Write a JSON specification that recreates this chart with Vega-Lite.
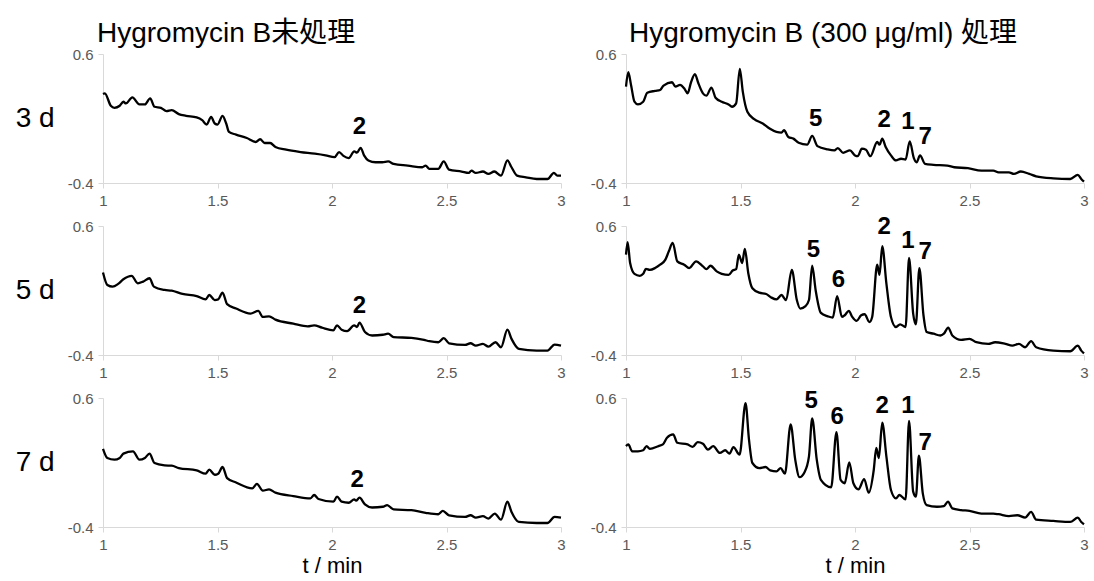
{
  "$schema": "https://vega.github.io/schema/vega-lite/v6.json",
  "background": "white",
  "padding": {"left": 15, "top": 20, "right": 5, "bottom": 5},
  "config": {
    "font": "Liberation Sans",
    "view": {"stroke": null},
    "axis": {
      "grid": false,
      "domainColor": "#d9d9d9",
      "tickColor": "#d9d9d9",
      "labelColor": "#595959",
      "labelFont": "Liberation Sans",
      "labelFontSize": 15,
      "tickSize": 5,
      "labelPadding": 5,
      "titleFont": "Liberation Sans",
      "titleFontWeight": "normal",
      "titleColor": "#000000"
    },
    "title": {"font": "Liberation Sans, Noto Sans CJK JP", "fontWeight": "normal", "color": "#000000", "fontSize": 28, "anchor": "start", "frame": "group"},
    "line": {"interpolate": "monotone", "color": "#000000", "strokeWidth": 2.3},
    "locale": {"number": {"decimal": ".", "thousands": ",", "grouping": [3], "currency": ["", ""], "minus": "-"}}
  },
  "datasets": {
    "traces": [
      {"panel":"u3","t":1,"signal":0.29},{"panel":"u3","t":1.008,"signal":0.295},{"panel":"u3","t":1.034,"signal":0.199},{"panel":"u3","t":1.05,"signal":0.183},{"panel":"u3","t":1.073,"signal":0.199},{"panel":"u3","t":1.089,"signal":0.23},{"panel":"u3","t":1.1,"signal":0.217},{"panel":"u3","t":1.128,"signal":0.264},{"panel":"u3","t":1.159,"signal":0.209},{"panel":"u3","t":1.183,"signal":0.209},{"panel":"u3","t":1.206,"signal":0.256},{"panel":"u3","t":1.225,"signal":0.191},{"panel":"u3","t":1.253,"signal":0.183},{"panel":"u3","t":1.277,"signal":0.157},{"panel":"u3","t":1.3,"signal":0.165},{"panel":"u3","t":1.331,"signal":0.134},{"panel":"u3","t":1.363,"signal":0.121},{"panel":"u3","t":1.409,"signal":0.108},{"panel":"u3","t":1.433,"signal":0.087},{"panel":"u3","t":1.453,"signal":0.053},{"panel":"u3","t":1.472,"signal":0.113},{"panel":"u3","t":1.488,"signal":0.061},{"panel":"u3","t":1.5,"signal":0.053},{"panel":"u3","t":1.522,"signal":0.121},{"panel":"u3","t":1.538,"signal":0.061},{"panel":"u3","t":1.55,"signal":-0.004},{"panel":"u3","t":1.581,"signal":-0.025},{"panel":"u3","t":1.628,"signal":-0.051},{"panel":"u3","t":1.667,"signal":-0.082},{"panel":"u3","t":1.686,"signal":-0.061},{"panel":"u3","t":1.706,"signal":-0.09},{"panel":"u3","t":1.73,"signal":-0.09},{"panel":"u3","t":1.753,"signal":-0.121},{"panel":"u3","t":1.8,"signal":-0.142},{"panel":"u3","t":1.863,"signal":-0.16},{"panel":"u3","t":1.925,"signal":-0.173},{"panel":"u3","t":1.972,"signal":-0.186},{"panel":"u3","t":2.011,"signal":-0.2},{"panel":"u3","t":2.031,"signal":-0.16},{"panel":"u3","t":2.05,"signal":-0.19},{"panel":"u3","t":2.073,"signal":-0.207},{"panel":"u3","t":2.097,"signal":-0.155},{"panel":"u3","t":2.109,"signal":-0.165},{"panel":"u3","t":2.125,"signal":-0.127},{"panel":"u3","t":2.14,"signal":-0.186},{"panel":"u3","t":2.159,"signal":-0.225},{"panel":"u3","t":2.19,"signal":-0.239},{"panel":"u3","t":2.22,"signal":-0.239},{"panel":"u3","t":2.245,"signal":-0.233},{"panel":"u3","t":2.269,"signal":-0.252},{"panel":"u3","t":2.331,"signal":-0.265},{"panel":"u3","t":2.394,"signal":-0.278},{"panel":"u3","t":2.409,"signal":-0.265},{"panel":"u3","t":2.425,"signal":-0.29},{"panel":"u3","t":2.464,"signal":-0.29},{"panel":"u3","t":2.488,"signal":-0.233},{"panel":"u3","t":2.511,"signal":-0.296},{"panel":"u3","t":2.566,"signal":-0.311},{"panel":"u3","t":2.597,"signal":-0.322},{"panel":"u3","t":2.609,"signal":-0.304},{"panel":"u3","t":2.628,"signal":-0.322},{"panel":"u3","t":2.659,"signal":-0.311},{"panel":"u3","t":2.683,"signal":-0.33},{"panel":"u3","t":2.709,"signal":-0.311},{"panel":"u3","t":2.738,"signal":-0.343},{"panel":"u3","t":2.766,"signal":-0.225},{"panel":"u3","t":2.784,"signal":-0.278},{"panel":"u3","t":2.808,"signal":-0.343},{"panel":"u3","t":2.847,"signal":-0.356},{"panel":"u3","t":2.894,"signal":-0.369},{"panel":"u3","t":2.941,"signal":-0.369},{"panel":"u3","t":2.969,"signal":-0.322},{"panel":"u3","t":2.984,"signal":-0.343},{"panel":"u3","t":3,"signal":-0.343},

      {"panel":"u5","t":1,"signal":0.24},{"panel":"u5","t":1.019,"signal":0.143},{"panel":"u5","t":1.042,"signal":0.13},{"panel":"u5","t":1.066,"signal":0.151},{"panel":"u5","t":1.089,"signal":0.187},{"panel":"u5","t":1.125,"signal":0.214},{"panel":"u5","t":1.152,"signal":0.156},{"panel":"u5","t":1.175,"signal":0.169},{"panel":"u5","t":1.203,"signal":0.195},{"panel":"u5","t":1.222,"signal":0.13},{"panel":"u5","t":1.269,"signal":0.104},{"panel":"u5","t":1.3,"signal":0.099},{"panel":"u5","t":1.347,"signal":0.073},{"panel":"u5","t":1.409,"signal":0.057},{"panel":"u5","t":1.448,"signal":0.031},{"panel":"u5","t":1.464,"signal":0.065},{"panel":"u5","t":1.488,"signal":0.026},{"panel":"u5","t":1.503,"signal":0.031},{"panel":"u5","t":1.522,"signal":0.083},{"panel":"u5","t":1.542,"signal":-0.006},{"panel":"u5","t":1.581,"signal":-0.04},{"panel":"u5","t":1.644,"signal":-0.079},{"panel":"u5","t":1.678,"signal":-0.058},{"panel":"u5","t":1.698,"signal":-0.105},{"panel":"u5","t":1.725,"signal":-0.1},{"panel":"u5","t":1.753,"signal":-0.126},{"panel":"u5","t":1.831,"signal":-0.157},{"panel":"u5","t":1.894,"signal":-0.178},{"panel":"u5","t":1.922,"signal":-0.17},{"panel":"u5","t":1.956,"signal":-0.188},{"panel":"u5","t":2.006,"signal":-0.209},{"panel":"u5","t":2.022,"signal":-0.17},{"panel":"u5","t":2.042,"signal":-0.204},{"panel":"u5","t":2.066,"signal":-0.215},{"panel":"u5","t":2.097,"signal":-0.17},{"panel":"u5","t":2.109,"signal":-0.183},{"panel":"u5","t":2.12,"signal":-0.149},{"panel":"u5","t":2.144,"signal":-0.222},{"panel":"u5","t":2.175,"signal":-0.249},{"panel":"u5","t":2.222,"signal":-0.243},{"panel":"u5","t":2.245,"signal":-0.235},{"panel":"u5","t":2.269,"signal":-0.262},{"panel":"u5","t":2.347,"signal":-0.267},{"panel":"u5","t":2.402,"signal":-0.283},{"panel":"u5","t":2.425,"signal":-0.293},{"panel":"u5","t":2.464,"signal":-0.301},{"panel":"u5","t":2.488,"signal":-0.269},{"panel":"u5","t":2.511,"signal":-0.309},{"panel":"u5","t":2.581,"signal":-0.322},{"panel":"u5","t":2.605,"signal":-0.309},{"panel":"u5","t":2.628,"signal":-0.327},{"panel":"u5","t":2.659,"signal":-0.314},{"panel":"u5","t":2.683,"signal":-0.335},{"panel":"u5","t":2.714,"signal":-0.301},{"panel":"u5","t":2.738,"signal":-0.34},{"panel":"u5","t":2.766,"signal":-0.204},{"panel":"u5","t":2.784,"signal":-0.275},{"panel":"u5","t":2.816,"signal":-0.353},{"panel":"u5","t":2.894,"signal":-0.366},{"panel":"u5","t":2.941,"signal":-0.366},{"panel":"u5","t":2.972,"signal":-0.319},{"panel":"u5","t":3,"signal":-0.327},

      {"panel":"u7","t":1,"signal":0.206},{"panel":"u7","t":1.019,"signal":0.135},{"panel":"u7","t":1.05,"signal":0.122},{"panel":"u7","t":1.073,"signal":0.135},{"panel":"u7","t":1.089,"signal":0.169},{"panel":"u7","t":1.131,"signal":0.187},{"panel":"u7","t":1.159,"signal":0.122},{"panel":"u7","t":1.183,"signal":0.135},{"panel":"u7","t":1.203,"signal":0.169},{"panel":"u7","t":1.225,"signal":0.096},{"panel":"u7","t":1.269,"signal":0.078},{"panel":"u7","t":1.3,"signal":0.075},{"panel":"u7","t":1.331,"signal":0.057},{"panel":"u7","t":1.409,"signal":0.039},{"panel":"u7","t":1.448,"signal":0.013},{"panel":"u7","t":1.464,"signal":0.044},{"panel":"u7","t":1.488,"signal":0.005},{"panel":"u7","t":1.503,"signal":0.013},{"panel":"u7","t":1.522,"signal":0.065},{"panel":"u7","t":1.542,"signal":-0.021},{"panel":"u7","t":1.581,"signal":-0.055},{"panel":"u7","t":1.652,"signal":-0.1},{"panel":"u7","t":1.672,"signal":-0.066},{"panel":"u7","t":1.698,"signal":-0.118},{"panel":"u7","t":1.725,"signal":-0.108},{"panel":"u7","t":1.753,"signal":-0.134},{"panel":"u7","t":1.831,"signal":-0.16},{"panel":"u7","t":1.906,"signal":-0.178},{"panel":"u7","t":1.922,"signal":-0.152},{"panel":"u7","t":1.941,"signal":-0.183},{"panel":"u7","t":2.006,"signal":-0.204},{"panel":"u7","t":2.022,"signal":-0.165},{"panel":"u7","t":2.042,"signal":-0.204},{"panel":"u7","t":2.073,"signal":-0.212},{"panel":"u7","t":2.097,"signal":-0.186},{"panel":"u7","t":2.105,"signal":-0.196},{"panel":"u7","t":2.12,"signal":-0.173},{"panel":"u7","t":2.144,"signal":-0.225},{"panel":"u7","t":2.175,"signal":-0.249},{"panel":"u7","t":2.222,"signal":-0.243},{"panel":"u7","t":2.241,"signal":-0.23},{"panel":"u7","t":2.269,"signal":-0.264},{"panel":"u7","t":2.347,"signal":-0.269},{"panel":"u7","t":2.409,"signal":-0.29},{"panel":"u7","t":2.464,"signal":-0.301},{"panel":"u7","t":2.484,"signal":-0.275},{"panel":"u7","t":2.511,"signal":-0.309},{"panel":"u7","t":2.581,"signal":-0.322},{"panel":"u7","t":2.605,"signal":-0.309},{"panel":"u7","t":2.628,"signal":-0.327},{"panel":"u7","t":2.659,"signal":-0.316},{"panel":"u7","t":2.683,"signal":-0.335},{"panel":"u7","t":2.711,"signal":-0.296},{"panel":"u7","t":2.738,"signal":-0.343},{"panel":"u7","t":2.766,"signal":-0.204},{"panel":"u7","t":2.784,"signal":-0.283},{"panel":"u7","t":2.816,"signal":-0.361},{"panel":"u7","t":2.894,"signal":-0.369},{"panel":"u7","t":2.941,"signal":-0.369},{"panel":"u7","t":2.972,"signal":-0.322},{"panel":"u7","t":3,"signal":-0.327},

      {"panel":"h3","t":1,"signal":0.347},{"panel":"h3","t":1.01,"signal":0.459},{"panel":"h3","t":1.022,"signal":0.36},{"panel":"h3","t":1.037,"signal":0.23},{"panel":"h3","t":1.052,"signal":0.209},{"panel":"h3","t":1.075,"signal":0.23},{"panel":"h3","t":1.093,"signal":0.3},{"panel":"h3","t":1.127,"signal":0.314},{"panel":"h3","t":1.149,"signal":0.321},{"panel":"h3","t":1.164,"signal":0.355},{"panel":"h3","t":1.201,"signal":0.381},{"panel":"h3","t":1.216,"signal":0.347},{"panel":"h3","t":1.236,"signal":0.36},{"panel":"h3","t":1.254,"signal":0.334},{"panel":"h3","t":1.269,"signal":0.295},{"panel":"h3","t":1.284,"signal":0.381},{"panel":"h3","t":1.301,"signal":0.444},{"panel":"h3","t":1.316,"signal":0.373},{"panel":"h3","t":1.336,"signal":0.295},{"panel":"h3","t":1.351,"signal":0.277},{"panel":"h3","t":1.373,"signal":0.34},{"panel":"h3","t":1.391,"signal":0.261},{"panel":"h3","t":1.418,"signal":0.23},{"panel":"h3","t":1.448,"signal":0.209},{"panel":"h3","t":1.463,"signal":0.191},{"panel":"h3","t":1.481,"signal":0.217},{"panel":"h3","t":1.497,"signal":0.485},{"panel":"h3","t":1.51,"signal":0.308},{"panel":"h3","t":1.53,"signal":0.152},{"panel":"h3","t":1.56,"signal":0.095},{"panel":"h3","t":1.597,"signal":0.061},{"panel":"h3","t":1.627,"signal":0.022},{"panel":"h3","t":1.657,"signal":-0.004},{"panel":"h3","t":1.679,"signal":-0.009},{"panel":"h3","t":1.69,"signal":0.009},{"panel":"h3","t":1.709,"signal":-0.043},{"panel":"h3","t":1.731,"signal":-0.056},{"panel":"h3","t":1.754,"signal":-0.088},{"panel":"h3","t":1.791,"signal":-0.103},{"panel":"h3","t":1.813,"signal":-0.035},{"panel":"h3","t":1.836,"signal":-0.114},{"panel":"h3","t":1.881,"signal":-0.14},{"panel":"h3","t":1.91,"signal":-0.147},{"panel":"h3","t":1.925,"signal":-0.129},{"panel":"h3","t":1.948,"signal":-0.166},{"panel":"h3","t":1.978,"signal":-0.147},{"panel":"h3","t":2,"signal":-0.186},{"panel":"h3","t":2.012,"signal":-0.192},{"panel":"h3","t":2.03,"signal":-0.134},{"panel":"h3","t":2.048,"signal":-0.142},{"panel":"h3","t":2.067,"signal":-0.192},{"panel":"h3","t":2.097,"signal":-0.082},{"panel":"h3","t":2.107,"signal":-0.103},{"panel":"h3","t":2.119,"signal":-0.056},{"panel":"h3","t":2.134,"signal":-0.121},{"panel":"h3","t":2.157,"signal":-0.186},{"panel":"h3","t":2.179,"signal":-0.225},{"panel":"h3","t":2.201,"signal":-0.212},{"panel":"h3","t":2.221,"signal":-0.218},{"panel":"h3","t":2.239,"signal":-0.077},{"panel":"h3","t":2.257,"signal":-0.207},{"panel":"h3","t":2.269,"signal":-0.239},{"panel":"h3","t":2.284,"signal":-0.186},{"panel":"h3","t":2.306,"signal":-0.252},{"panel":"h3","t":2.343,"signal":-0.259},{"panel":"h3","t":2.403,"signal":-0.265},{"panel":"h3","t":2.433,"signal":-0.278},{"panel":"h3","t":2.493,"signal":-0.285},{"panel":"h3","t":2.552,"signal":-0.304},{"panel":"h3","t":2.604,"signal":-0.304},{"panel":"h3","t":2.627,"signal":-0.317},{"panel":"h3","t":2.672,"signal":-0.317},{"panel":"h3","t":2.694,"signal":-0.33},{"panel":"h3","t":2.724,"signal":-0.311},{"panel":"h3","t":2.761,"signal":-0.33},{"panel":"h3","t":2.791,"signal":-0.348},{"panel":"h3","t":2.866,"signal":-0.364},{"panel":"h3","t":2.94,"signal":-0.369},{"panel":"h3","t":2.973,"signal":-0.337},{"panel":"h3","t":2.988,"signal":-0.369},{"panel":"h3","t":3,"signal":-0.39},

      {"panel":"h5","t":1,"signal":0.378},{"panel":"h5","t":1.007,"signal":0.475},{"panel":"h5","t":1.018,"signal":0.313},{"panel":"h5","t":1.037,"signal":0.229},{"panel":"h5","t":1.06,"signal":0.214},{"panel":"h5","t":1.075,"signal":0.229},{"panel":"h5","t":1.087,"signal":0.268},{"panel":"h5","t":1.104,"signal":0.26},{"panel":"h5","t":1.127,"signal":0.274},{"panel":"h5","t":1.149,"signal":0.3},{"panel":"h5","t":1.172,"signal":0.339},{"panel":"h5","t":1.187,"signal":0.404},{"panel":"h5","t":1.204,"signal":0.469},{"panel":"h5","t":1.224,"signal":0.326},{"panel":"h5","t":1.254,"signal":0.3},{"panel":"h5","t":1.276,"signal":0.274},{"panel":"h5","t":1.306,"signal":0.326},{"panel":"h5","t":1.336,"signal":0.287},{"panel":"h5","t":1.351,"signal":0.266},{"panel":"h5","t":1.369,"signal":0.292},{"panel":"h5","t":1.396,"signal":0.248},{"panel":"h5","t":1.418,"signal":0.229},{"panel":"h5","t":1.448,"signal":0.221},{"panel":"h5","t":1.466,"signal":0.255},{"panel":"h5","t":1.481,"signal":0.266},{"panel":"h5","t":1.493,"signal":0.378},{"panel":"h5","t":1.507,"signal":0.313},{"panel":"h5","t":1.519,"signal":0.422},{"panel":"h5","t":1.534,"signal":0.234},{"panel":"h5","t":1.552,"signal":0.117},{"panel":"h5","t":1.582,"signal":0.083},{"panel":"h5","t":1.612,"signal":0.073},{"panel":"h5","t":1.634,"signal":0.046},{"panel":"h5","t":1.657,"signal":0.031},{"panel":"h5","t":1.679,"signal":0.065},{"panel":"h5","t":1.699,"signal":0.026},{"panel":"h5","t":1.724,"signal":0.26},{"panel":"h5","t":1.746,"signal":0.026},{"panel":"h5","t":1.761,"signal":-0.04},{"panel":"h5","t":1.784,"signal":-0.021},{"panel":"h5","t":1.799,"signal":0.026},{"panel":"h5","t":1.813,"signal":0.292},{"panel":"h5","t":1.828,"signal":0.104},{"panel":"h5","t":1.851,"signal":-0.074},{"panel":"h5","t":1.881,"signal":-0.1},{"panel":"h5","t":1.903,"signal":-0.11},{"panel":"h5","t":1.922,"signal":0.057},{"panel":"h5","t":1.943,"signal":-0.105},{"panel":"h5","t":1.955,"signal":-0.092},{"panel":"h5","t":1.973,"signal":-0.058},{"panel":"h5","t":1.988,"signal":-0.105},{"panel":"h5","t":2.007,"signal":-0.136},{"panel":"h5","t":2.027,"signal":-0.092},{"panel":"h5","t":2.042,"signal":-0.084},{"panel":"h5","t":2.063,"signal":-0.144},{"panel":"h5","t":2.075,"signal":-0.105},{"panel":"h5","t":2.097,"signal":0.3},{"panel":"h5","t":2.107,"signal":0.221},{"panel":"h5","t":2.119,"signal":0.443},{"panel":"h5","t":2.137,"signal":0.156},{"panel":"h5","t":2.157,"signal":-0.105},{"panel":"h5","t":2.179,"signal":-0.183},{"panel":"h5","t":2.197,"signal":-0.162},{"panel":"h5","t":2.221,"signal":-0.183},{"panel":"h5","t":2.236,"signal":0.352},{"panel":"h5","t":2.254,"signal":-0.079},{"panel":"h5","t":2.266,"signal":-0.162},{"panel":"h5","t":2.281,"signal":0.274},{"panel":"h5","t":2.299,"signal":-0.092},{"panel":"h5","t":2.313,"signal":-0.222},{"panel":"h5","t":2.343,"signal":-0.235},{"panel":"h5","t":2.373,"signal":-0.249},{"panel":"h5","t":2.388,"signal":-0.235},{"panel":"h5","t":2.407,"signal":-0.188},{"panel":"h5","t":2.425,"signal":-0.249},{"panel":"h5","t":2.463,"signal":-0.283},{"panel":"h5","t":2.5,"signal":-0.275},{"panel":"h5","t":2.53,"signal":-0.301},{"panel":"h5","t":2.582,"signal":-0.314},{"panel":"h5","t":2.612,"signal":-0.301},{"panel":"h5","t":2.657,"signal":-0.314},{"panel":"h5","t":2.687,"signal":-0.327},{"panel":"h5","t":2.716,"signal":-0.314},{"panel":"h5","t":2.743,"signal":-0.34},{"panel":"h5","t":2.769,"signal":-0.293},{"panel":"h5","t":2.791,"signal":-0.34},{"panel":"h5","t":2.866,"signal":-0.366},{"panel":"h5","t":2.94,"signal":-0.371},{"panel":"h5","t":2.973,"signal":-0.327},{"panel":"h5","t":2.988,"signal":-0.366},{"panel":"h5","t":3,"signal":-0.387},

      {"panel":"h7","t":1,"signal":0.227},{"panel":"h7","t":1.01,"signal":0.24},{"panel":"h7","t":1.027,"signal":0.187},{"panel":"h7","t":1.052,"signal":0.187},{"panel":"h7","t":1.075,"signal":0.195},{"panel":"h7","t":1.09,"signal":0.227},{"panel":"h7","t":1.104,"signal":0.206},{"panel":"h7","t":1.142,"signal":0.227},{"panel":"h7","t":1.161,"signal":0.24},{"panel":"h7","t":1.179,"signal":0.292},{"panel":"h7","t":1.206,"signal":0.318},{"panel":"h7","t":1.224,"signal":0.253},{"panel":"h7","t":1.269,"signal":0.24},{"panel":"h7","t":1.291,"signal":0.221},{"panel":"h7","t":1.313,"signal":0.258},{"panel":"h7","t":1.336,"signal":0.245},{"panel":"h7","t":1.358,"signal":0.2},{"panel":"h7","t":1.381,"signal":0.227},{"panel":"h7","t":1.41,"signal":0.174},{"panel":"h7","t":1.433,"signal":0.195},{"panel":"h7","t":1.452,"signal":0.169},{"panel":"h7","t":1.469,"signal":0.219},{"panel":"h7","t":1.496,"signal":0.161},{"panel":"h7","t":1.522,"signal":0.561},{"panel":"h7","t":1.537,"signal":0.279},{"panel":"h7","t":1.552,"signal":0.096},{"panel":"h7","t":1.582,"signal":0.057},{"panel":"h7","t":1.609,"signal":0.065},{"panel":"h7","t":1.63,"signal":0.039},{"panel":"h7","t":1.657,"signal":0.031},{"panel":"h7","t":1.675,"signal":0.057},{"panel":"h7","t":1.694,"signal":0.013},{"panel":"h7","t":1.719,"signal":0.396},{"panel":"h7","t":1.739,"signal":0.122},{"panel":"h7","t":1.758,"signal":-0.014},{"panel":"h7","t":1.779,"signal":0.023},{"panel":"h7","t":1.799,"signal":0.148},{"panel":"h7","t":1.813,"signal":0.441},{"panel":"h7","t":1.833,"signal":0.122},{"panel":"h7","t":1.851,"signal":-0.034},{"panel":"h7","t":1.896,"signal":-0.092},{"panel":"h7","t":1.919,"signal":0.336},{"panel":"h7","t":1.937,"signal":-0.034},{"panel":"h7","t":1.955,"signal":-0.061},{"panel":"h7","t":1.975,"signal":0.101},{"panel":"h7","t":1.993,"signal":-0.061},{"panel":"h7","t":2.015,"signal":-0.108},{"panel":"h7","t":2.04,"signal":-0.029},{"panel":"h7","t":2.06,"signal":-0.134},{"panel":"h7","t":2.082,"signal":0.044},{"panel":"h7","t":2.093,"signal":0.214},{"panel":"h7","t":2.104,"signal":0.135},{"panel":"h7","t":2.119,"signal":0.409},{"panel":"h7","t":2.137,"signal":0.148},{"panel":"h7","t":2.157,"signal":-0.113},{"panel":"h7","t":2.179,"signal":-0.178},{"panel":"h7","t":2.194,"signal":-0.152},{"panel":"h7","t":2.221,"signal":-0.186},{"panel":"h7","t":2.236,"signal":0.422},{"panel":"h7","t":2.254,"signal":-0.126},{"panel":"h7","t":2.266,"signal":-0.165},{"panel":"h7","t":2.279,"signal":0.153},{"panel":"h7","t":2.296,"signal":-0.139},{"panel":"h7","t":2.313,"signal":-0.23},{"panel":"h7","t":2.358,"signal":-0.243},{"panel":"h7","t":2.388,"signal":-0.238},{"panel":"h7","t":2.406,"signal":-0.204},{"panel":"h7","t":2.425,"signal":-0.256},{"panel":"h7","t":2.463,"signal":-0.269},{"panel":"h7","t":2.5,"signal":-0.275},{"panel":"h7","t":2.552,"signal":-0.296},{"panel":"h7","t":2.604,"signal":-0.296},{"panel":"h7","t":2.627,"signal":-0.301},{"panel":"h7","t":2.672,"signal":-0.316},{"panel":"h7","t":2.709,"signal":-0.309},{"panel":"h7","t":2.743,"signal":-0.327},{"panel":"h7","t":2.769,"signal":-0.283},{"panel":"h7","t":2.791,"signal":-0.343},{"panel":"h7","t":2.866,"signal":-0.353},{"panel":"h7","t":2.94,"signal":-0.361},{"panel":"h7","t":2.973,"signal":-0.327},{"panel":"h7","t":2.988,"signal":-0.361},{"panel":"h7","t":3,"signal":-0.379}
    ],
    "peaks": [
      {"panel":"u3","t":2.12,"signal":0.035,"peak":"2"},
      {"panel":"u5","t":2.12,"signal":-0.021,"peak":"2"},
      {"panel":"u7","t":2.11,"signal":-0.034,"peak":"2"},
      {"panel":"h3","t":1.828,"signal":0.1,"peak":"5"},
      {"panel":"h3","t":2.127,"signal":0.087,"peak":"2"},
      {"panel":"h3","t":2.231,"signal":0.074,"peak":"1"},
      {"panel":"h3","t":2.306,"signal":-0.043,"peak":"7"},
      {"panel":"h5","t":1.818,"signal":0.417,"peak":"5"},
      {"panel":"h5","t":1.928,"signal":0.182,"peak":"6"},
      {"panel":"h5","t":2.127,"signal":0.595,"peak":"2"},
      {"panel":"h5","t":2.231,"signal":0.483,"peak":"1"},
      {"panel":"h5","t":2.306,"signal":0.397,"peak":"7"},
      {"panel":"h7","t":1.809,"signal":0.579,"peak":"5"},
      {"panel":"h7","t":1.922,"signal":0.449,"peak":"6"},
      {"panel":"h7","t":2.119,"signal":0.535,"peak":"2"},
      {"panel":"h7","t":2.231,"signal":0.535,"peak":"1"},
      {"panel":"h7","t":2.306,"signal":0.253,"peak":"7"}
    ]
  },
  "columns": 2,
  "bounds": "flush",
  "spacing": {"row": 43, "column": 65},
  "concat": [
    {
      "width": 458, "height": 129,
      "title": {"text": "Hygromycin B未処理", "offset": -1, "dx": -6},
      "layer": [
        {"data": {"name": "traces"}, "transform": [{"filter": "datum.panel === 'u3'"}],
         "mark": {"type": "line"},
         "encoding": {
           "x": {"field": "t", "type": "quantitative", "scale": {"domain": [1, 3], "nice": false}, "axis": {"values": [1, 1.5, 2, 2.5, 3], "format": "~g", "labelFlush": false, "title": null}},
           "y": {"field": "signal", "type": "quantitative", "scale": {"domain": [-0.4, 0.6], "nice": false, "zero": false}, "axis": {"values": [-0.4, 0.6], "format": "~g", "title": "3 d", "titleAngle": 0, "titleAlign": "right", "titleBaseline": "middle", "titleFontSize": 28, "titlePadding": 13}}}},
        {"data": {"name": "peaks"}, "transform": [{"filter": "datum.panel === 'u3'"}],
         "mark": {"type": "text", "fontSize": 24, "fontWeight": "bold", "color": "#000000"},
         "encoding": {"x": {"field": "t", "type": "quantitative"}, "y": {"field": "signal", "type": "quantitative"}, "text": {"field": "peak"}}}
      ]
    },
    {
      "width": 458, "height": 129,
      "title": {"text": "Hygromycin B (300 μg/ml) 処理", "offset": -1, "dx": 3},
      "layer": [
        {"data": {"name": "traces"}, "transform": [{"filter": "datum.panel === 'h3'"}],
         "mark": {"type": "line"},
         "encoding": {
           "x": {"field": "t", "type": "quantitative", "scale": {"domain": [1, 3], "nice": false}, "axis": {"values": [1, 1.5, 2, 2.5, 3], "format": "~g", "labelFlush": false, "title": null}},
           "y": {"field": "signal", "type": "quantitative", "scale": {"domain": [-0.4, 0.6], "nice": false, "zero": false}, "axis": {"values": [-0.4, 0.6], "format": "~g", "title": null}}}},
        {"data": {"name": "peaks"}, "transform": [{"filter": "datum.panel === 'h3'"}],
         "mark": {"type": "text", "fontSize": 24, "fontWeight": "bold", "color": "#000000"},
         "encoding": {"x": {"field": "t", "type": "quantitative"}, "y": {"field": "signal", "type": "quantitative"}, "text": {"field": "peak"}}}
      ]
    },
    {
      "width": 458, "height": 129,
      "layer": [
        {"data": {"name": "traces"}, "transform": [{"filter": "datum.panel === 'u5'"}],
         "mark": {"type": "line"},
         "encoding": {
           "x": {"field": "t", "type": "quantitative", "scale": {"domain": [1, 3], "nice": false}, "axis": {"values": [1, 1.5, 2, 2.5, 3], "format": "~g", "labelFlush": false, "title": null}},
           "y": {"field": "signal", "type": "quantitative", "scale": {"domain": [-0.4, 0.6], "nice": false, "zero": false}, "axis": {"values": [-0.4, 0.6], "format": "~g", "title": "5 d", "titleAngle": 0, "titleAlign": "right", "titleBaseline": "middle", "titleFontSize": 28, "titlePadding": 13}}}},
        {"data": {"name": "peaks"}, "transform": [{"filter": "datum.panel === 'u5'"}],
         "mark": {"type": "text", "fontSize": 24, "fontWeight": "bold", "color": "#000000"},
         "encoding": {"x": {"field": "t", "type": "quantitative"}, "y": {"field": "signal", "type": "quantitative"}, "text": {"field": "peak"}}}
      ]
    },
    {
      "width": 458, "height": 129,
      "layer": [
        {"data": {"name": "traces"}, "transform": [{"filter": "datum.panel === 'h5'"}],
         "mark": {"type": "line"},
         "encoding": {
           "x": {"field": "t", "type": "quantitative", "scale": {"domain": [1, 3], "nice": false}, "axis": {"values": [1, 1.5, 2, 2.5, 3], "format": "~g", "labelFlush": false, "title": null}},
           "y": {"field": "signal", "type": "quantitative", "scale": {"domain": [-0.4, 0.6], "nice": false, "zero": false}, "axis": {"values": [-0.4, 0.6], "format": "~g", "title": null}}}},
        {"data": {"name": "peaks"}, "transform": [{"filter": "datum.panel === 'h5'"}],
         "mark": {"type": "text", "fontSize": 24, "fontWeight": "bold", "color": "#000000"},
         "encoding": {"x": {"field": "t", "type": "quantitative"}, "y": {"field": "signal", "type": "quantitative"}, "text": {"field": "peak"}}}
      ]
    },
    {
      "width": 458, "height": 129,
      "layer": [
        {"data": {"name": "traces"}, "transform": [{"filter": "datum.panel === 'u7'"}],
         "mark": {"type": "line"},
         "encoding": {
           "x": {"field": "t", "type": "quantitative", "scale": {"domain": [1, 3], "nice": false}, "axis": {"values": [1, 1.5, 2, 2.5, 3], "format": "~g", "labelFlush": false, "title": "t / min", "titleFontSize": 22, "titlePadding": 3}},
           "y": {"field": "signal", "type": "quantitative", "scale": {"domain": [-0.4, 0.6], "nice": false, "zero": false}, "axis": {"values": [-0.4, 0.6], "format": "~g", "title": "7 d", "titleAngle": 0, "titleAlign": "right", "titleBaseline": "middle", "titleFontSize": 28, "titlePadding": 13}}}},
        {"data": {"name": "peaks"}, "transform": [{"filter": "datum.panel === 'u7'"}],
         "mark": {"type": "text", "fontSize": 24, "fontWeight": "bold", "color": "#000000"},
         "encoding": {"x": {"field": "t", "type": "quantitative"}, "y": {"field": "signal", "type": "quantitative"}, "text": {"field": "peak"}}}
      ]
    },
    {
      "width": 458, "height": 129,
      "layer": [
        {"data": {"name": "traces"}, "transform": [{"filter": "datum.panel === 'h7'"}],
         "mark": {"type": "line"},
         "encoding": {
           "x": {"field": "t", "type": "quantitative", "scale": {"domain": [1, 3], "nice": false}, "axis": {"values": [1, 1.5, 2, 2.5, 3], "format": "~g", "labelFlush": false, "title": "t / min", "titleFontSize": 22, "titlePadding": 3}},
           "y": {"field": "signal", "type": "quantitative", "scale": {"domain": [-0.4, 0.6], "nice": false, "zero": false}, "axis": {"values": [-0.4, 0.6], "format": "~g", "title": null}}}},
        {"data": {"name": "peaks"}, "transform": [{"filter": "datum.panel === 'h7'"}],
         "mark": {"type": "text", "fontSize": 24, "fontWeight": "bold", "color": "#000000"},
         "encoding": {"x": {"field": "t", "type": "quantitative"}, "y": {"field": "signal", "type": "quantitative"}, "text": {"field": "peak"}}}
      ]
    }
  ]
}
